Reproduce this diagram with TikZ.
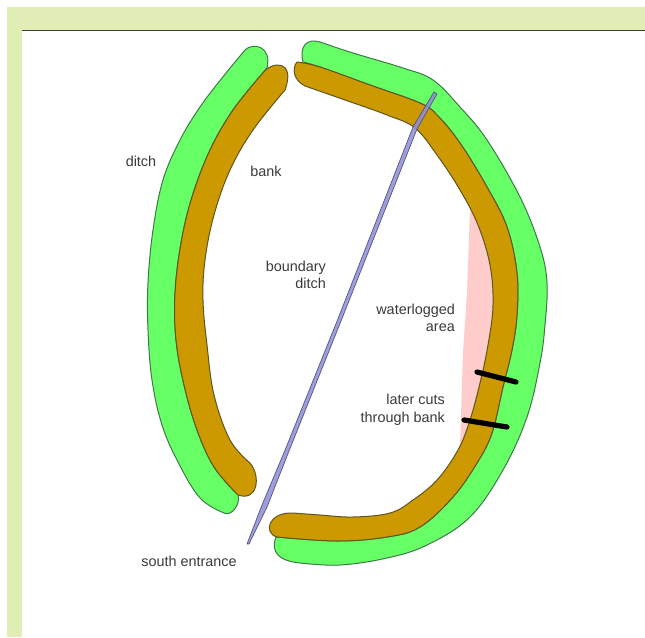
\documentclass[tikz,border=0pt]{standalone}
\usepackage{fontspec}
\setmainfont{Liberation Sans}
\definecolor{barcol}{HTML}{E0EEB5}
\definecolor{ditchcol}{HTML}{66FF66}
\definecolor{bankcol}{HTML}{CC9900}
\definecolor{pinkcol}{HTML}{FFCCCC}
\definecolor{bluecol}{HTML}{8E8ED6}
\definecolor{txtcol}{HTML}{3A3A3A}
\definecolor{ditchedge}{HTML}{3C7A48}
\definecolor{bankedge}{HTML}{5E5520}
\tikzset{
  ditcharea/.style={fill=ditchcol,draw=ditchedge,line width=1pt,line join=round},
  bankarea/.style={fill=bankcol,draw=bankedge,line width=1pt,line join=round},
  cutline/.style={draw=black,line width=5.2pt,line cap=round},
  lab/.style={font=\fontsize{14.4}{17.6}\selectfont,text=txtcol,inner sep=0pt,align=right},
  smoothed/.style={smooth,tension=0.62}
}
\begin{document}
\begin{tikzpicture}[x=1pt,y=-1pt]
\useasboundingbox (0,0) rectangle (645,637);
\fill[white] (0,0) rectangle (645,637);
\fill[barcol] (7,7) rectangle (645,30);
\fill[barcol] (7,7) rectangle (22,637);
\draw[black!75,line width=1.1pt] (22,30.5) -- (645,30.5);
% waterlogged area
\fill[pinkcol] (470,210) -- (467,293) -- (463,353) -- (460,447) -- (480,420) -- (500,300) -- (490,240) -- cycle;
% left ditch
\draw[ditcharea] plot[smoothed] coordinates {
 (224,513) (200,498) (178,462) (162,425) (152,380) (148,330) (148,283) (153,230) (163,180) (180,140) (200,107) (222,78) (245,50)}
 .. controls (253,42) and (272,46) .. (267,68)
 -- plot[smoothed] coordinates {(262,74) (233,110) (210,150) (192,197) (181,243) (175,293) (176,340) (184,385) (197,430) (214,467) (238,495)}
 .. controls (241,503) and (232,517) .. (224,513) -- cycle;
% left bank
\draw[bankarea] plot[smoothed] coordinates {
 (285,90) (253,130) (230,170) (214,215) (205,260) (203,300) (207,345) (214,395) (230,440) (250,463)}
 .. controls (261,476) and (258,502) .. (238,495)
 -- plot[smoothed] coordinates {(238,495) (214,467) (197,430) (184,385) (176,340) (175,293) (181,243) (192,197) (210,150) (233,110) (262,74)}
 .. controls (272,60) and (296,60) .. (285,90) -- cycle;
% right ditch
\draw[ditcharea] plot[smoothed] coordinates {
 (320,42) (353,53) (403,68) (433,80) (460,107) (487,140) (520,197) (540,247) (547,283) (545,325) (540,363) (527,417) (503,470) (470,517) (427,545) (387,558) (340,565) (300,563)}
 .. controls (280,561) and (270,553) .. (276,537)
 -- plot[smoothed] coordinates {(277,537) (337,541) (387,537) (420,527) (453,497) (477,463) (492,433) (503,387) (512,350) (517,315) (517,273) (507,227) (487,187) (460,143) (437,115) (420,103) (370,85) (320,67) (303,62)}
 .. controls (299,46) and (307,38) .. (320,42) -- cycle;
% right bank
\draw[bankarea] plot[smoothed] coordinates {
 (305,86) (345,100) (387,115) (415,128) (437,155) (460,190) (478,225) (490,265) (493,305) (488,345) (480,383) (470,420) (458,450) (437,480) (413,500) (390,513) (353,517) (320,515) (293,513)}
 .. controls (268,512) and (263,533) .. (277,537)
 -- plot[smoothed] coordinates {(277,537) (337,541) (387,537) (420,527) (453,497) (477,463) (492,433) (503,387) (512,350) (517,315) (517,273) (507,227) (487,187) (460,143) (437,115) (420,103) (370,85) (320,67) (297,62)}
 .. controls (292,68) and (293,80) .. (305,86) -- cycle;
% boundary ditch
\draw[fill=bluecol,fill opacity=0.85,draw=black!40!bluecol,line width=0.7pt,line join=round]
 (437,94) -- (434,92) -- (413,127) -- (337.5,320) -- (285.5,449) -- (262,505) -- (247,544) -- (249,544) -- (267,507) -- (289,451) -- (341,321) -- (417,129) -- cycle;
% later cuts
\coordinate (cutAa) at (477,372);
\coordinate (cutAb) at (516,382);
\coordinate (cutBa) at (464,420);
\coordinate (cutBb) at (507,427);
\draw[cutline] (cutAa) -- (cutAb);
\draw[cutline] (cutBa) -- (cutBb);
% labels
\node[lab,anchor=center] (ditchlab) at (141,161) {ditch};
\node[lab,anchor=center] (banklab) at (266,171) {bank};
\node[lab,anchor=east] (boundlab) at (326,275) {boundary\\ditch};
\node[lab,anchor=east] (waterlab) at (455,318) {waterlogged\\area};
\node[lab,anchor=east] (cutslab) at (445,410) {later cuts\\through bank};
\node[lab,anchor=center] (southlab) at (189,561) {south entrance};
\end{tikzpicture}
\end{document}
